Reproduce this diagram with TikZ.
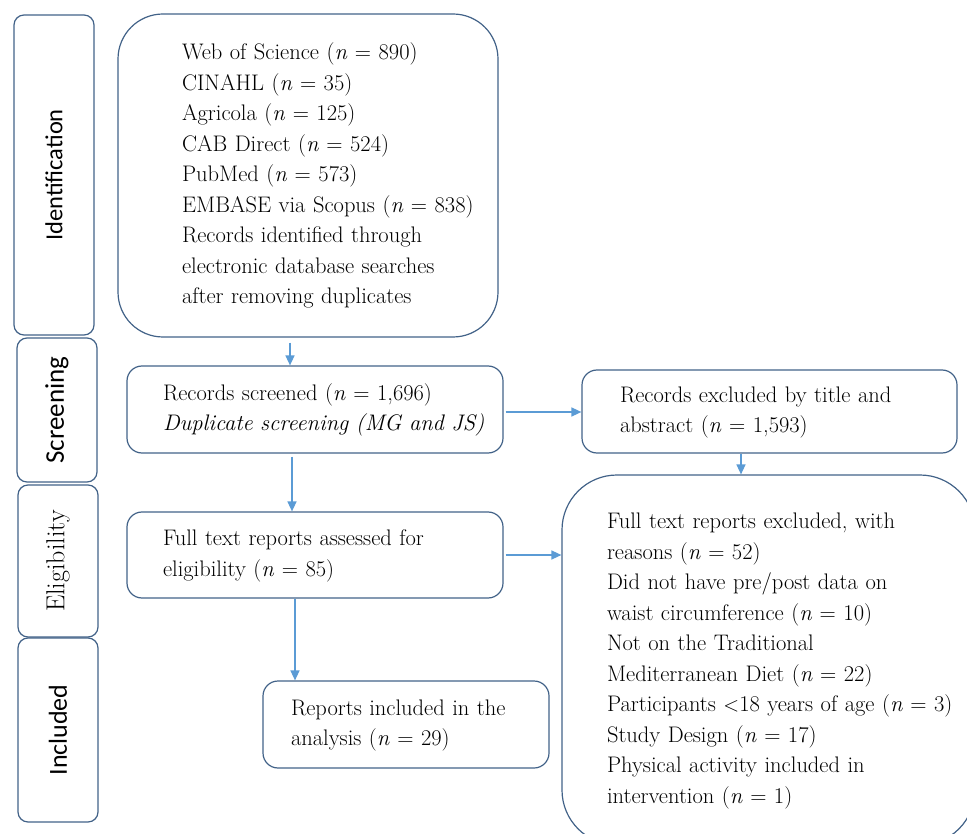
\documentclass[tikz,border=0pt]{standalone}
\usepackage{fontspec}
\newfontfamily\labelfont{Carlito}
\usetikzlibrary{arrows.meta}
\definecolor{edgeblue}{RGB}{66,98,136}
\definecolor{arrowblue}{RGB}{91,155,213}
\newcommand{\boxlines}[1]{\begin{tabular}{@{}l@{}}#1\end{tabular}}

\begin{document}
\begin{tikzpicture}[x=1pt, y=-1pt,
		box/.style={draw=edgeblue, line width=1.2pt, rounded corners=15pt, align=left, inner sep=0pt,
			font=\fontsize{22.5}{30.5}\selectfont},
		stage/.style={draw=edgeblue, line width=1.2pt, rounded corners=10pt, inner sep=0pt,
			rotate=90, minimum height=80pt},
		link/.style={draw=arrowblue, line width=1.5pt, -{Triangle[length=10pt,width=9pt]}}]
	\useasboundingbox (0,0) rectangle (967,834);
	\clip (0,0) rectangle (967,834);

	% stages on the left
	\node[stage, minimum width=320pt, font=\labelfont\fontsize{24.5}{24.5}\selectfont] (ident) at (54,175) {Identification};
	\node[stage, minimum width=144pt, font=\labelfont\fontsize{27}{27}\selectfont] (screen) at (57,410) {Screening};
	\node[stage, minimum width=152pt, font=\fontsize{26}{26}\selectfont] (elig) at (58,561) {Eligibility};
	\node[stage, minimum width=184pt, font=\labelfont\fontsize{26}{26}\selectfont] (incl) at (58,730) {Included};

	% flow boxes
	\node[box, rounded corners=45pt, minimum width=380pt, minimum height=323pt, text width=252pt] (records) at (308,175.5)
		{\boxlines{Web of Science (\textit{n} = 890)\\
		CINAHL (\textit{n} = 35)\\
		Agricola (\textit{n} = 125)\\
		CAB Direct (\textit{n} = 524)\\
		PubMed (\textit{n} = 573)\\
		EMBASE via Scopus (\textit{n} = 838)\\
		Records identified through\\
		electronic database searches\\
		after removing duplicates}};
	\node[box, minimum width=376pt, minimum height=87pt, text width=304pt] (screened) at (315,409.5)
		{\boxlines{Records screened (\textit{n} = 1,696)\\ \textit{Duplicate screening (MG and JS)}}};
	\node[box, minimum width=375pt, minimum height=83pt, text width=299pt] (excluded) at (769.5,411.5)
		{\boxlines{Records excluded by title and\\ abstract (\textit{n} = 1,593)}};
	\node[box, minimum width=376pt, minimum height=86pt, text width=304pt] (assessed) at (315,555)
		{\boxlines{Full text reports assessed for\\ eligibility (\textit{n} = 85)}};
	\node[box, rounded corners=55pt, minimum width=413pt, minimum height=370pt, text width=323pt] (reasons) at (768.5,660)
		{\boxlines{Full text reports excluded, with\\
		reasons (\textit{n} = 52)\\
		Did not have pre/post data on\\
		waist circumference (\textit{n} = 10)\\
		Not on the Traditional\\
		Mediterranean Diet (\textit{n} = 22)\\
		Participants $<$18 years of age (\textit{n} = 3)\\
		Study Design (\textit{n} = 17)\\
		Physical activity included in\\
		intervention (\textit{n} = 1)}};
	\node[box, minimum width=286pt, minimum height=87pt, text width=230pt] (included) at (406,724.5)
		{\boxlines{Reports included in the\\ analysis (\textit{n} = 29)}};

	% arrows
	\draw[link, shorten <=5pt] ([xshift=-18pt]records.south) -- ([xshift=-25pt]screened.north);
	\draw[link, shorten <=3pt] ([xshift=-23pt]screened.south) -- ([xshift=-23pt]assessed.north);
	\coordinate (c0) at ([yshift=-2.5pt]screened.east);
	\draw[link, shorten <=2pt] (c0) -- (c0 -| excluded.west);
	\coordinate (c1) at ([xshift=-28.5pt]excluded.south);
	\draw[link] (c1) -- (c1 |- reasons.north);
	\draw[link, shorten <=2pt] (assessed.east) -- (assessed.east -| reasons.west);
	\coordinate (c2) at ([xshift=-20pt]assessed.south);
	\draw[link] (c2) -- (c2 |- included.north);
\end{tikzpicture}
\end{document}
